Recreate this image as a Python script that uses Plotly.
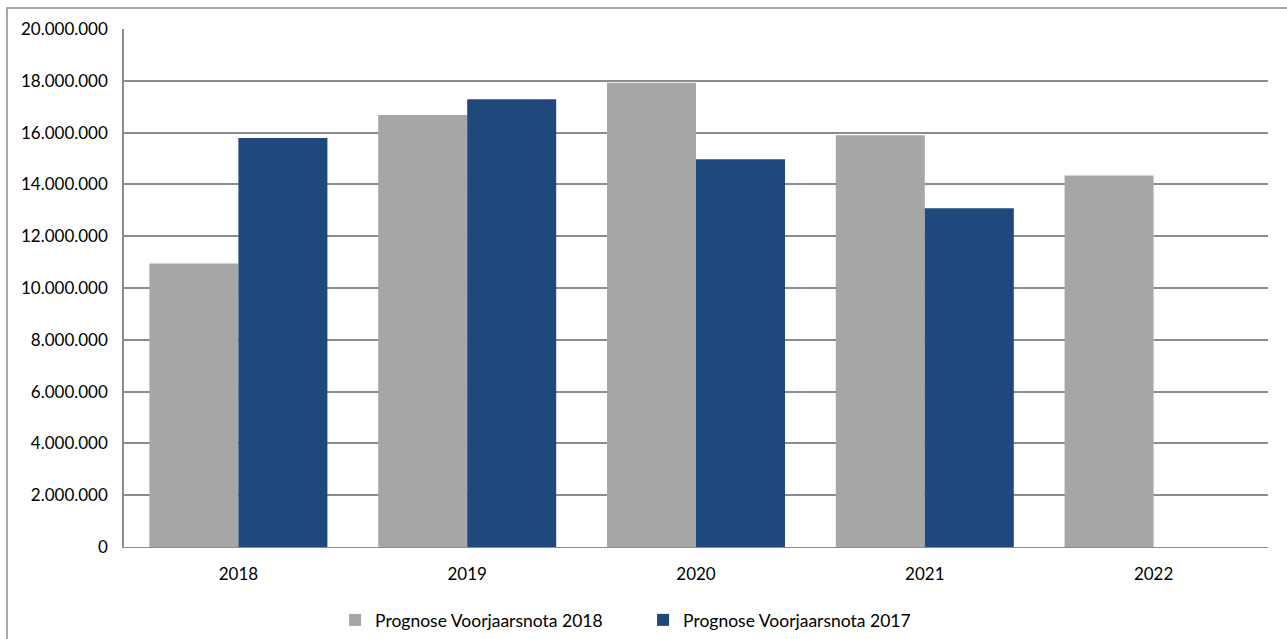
import plotly.graph_objects as go

years = ["2018", "2019", "2020", "2021", "2022"]
prognose_2018 = [10950000, 16680000, 17920000, 15900000, 14340000]
prognose_2017 = [15790000, 17290000, 14970000, 13080000, None]

y_ticks = [0, 2000000, 4000000, 6000000, 8000000, 10000000,
           12000000, 14000000, 16000000, 18000000, 20000000]

font_family = "Lato, 'Open Sans', sans-serif"

fig = go.Figure()
fig.add_trace(go.Bar(
    x=years, y=prognose_2018, name="Prognose Voorjaarsnota 2018",
    marker=dict(color="#a6a6a6", line=dict(width=0)),
))
fig.add_trace(go.Bar(
    x=years, y=prognose_2017, name="Prognose Voorjaarsnota 2017",
    marker=dict(color="#1f497d", line=dict(width=0)),
))

fig.update_layout(
    width=1287, height=639,
    margin=dict(l=124, r=19, t=29, b=92),
    paper_bgcolor="white", plot_bgcolor="white",
    barmode="group", bargap=0.222, bargroupgap=0,
    separators=",.",
    font=dict(family=font_family, size=17, color="#000000"),
    showlegend=True,
    legend=dict(
        orientation="h", xref="paper", x=0.1845, xanchor="left",
        yref="container", y=0.0297, yanchor="middle",
        font=dict(family=font_family, size=17.5, color="#000000"),
        entrywidth=263, entrywidthmode="pixels",
        itemwidth=30, tracegroupgap=0, itemclick=False,
        traceorder="normal",
    ),
    xaxis=dict(
        showgrid=False, showline=True, linecolor="#8c8c8c", linewidth=1,
        ticks="", tickfont=dict(size=17), ticklabelstandoff=12,
    ),
    yaxis=dict(
        range=[0, 20000000], tickvals=y_ticks, tickformat=",d",
        showgrid=True, gridcolor="#8c8c8c", gridwidth=1.5,
        showline=True, linecolor="#8c8c8c", linewidth=1.5,
        ticks="", tickfont=dict(size=17), ticklabelstandoff=11,
        zeroline=False,
    ),
    shapes=[dict(
        type="rect", xref="paper", yref="paper",
        x0=-0.1023, x1=1.03, y0=-0.2, y1=1.0405,
        line=dict(color="#8c8c8c", width=1.5), fillcolor="rgba(0,0,0,0)",
        layer="below",
    )],
)

fig.write_html("out.html")
